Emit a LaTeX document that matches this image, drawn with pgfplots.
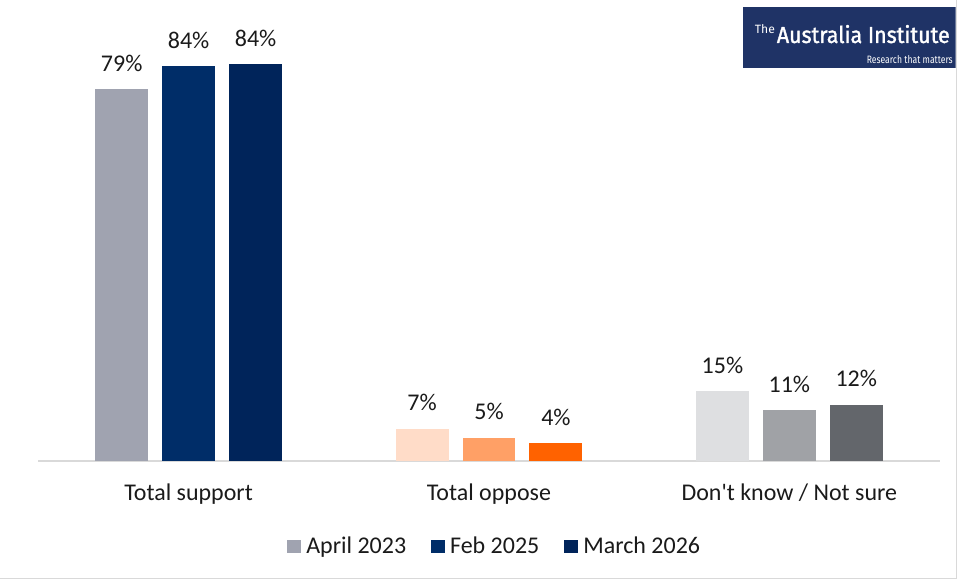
\documentclass[border=0pt]{standalone}
\usepackage{pgfplots}
\pgfplotsset{compat=1.18}
\usepackage{fontspec}
\usepackage{graphicx}
\newfontfamily\cf{Carlito}
\newfontfamily\logofont{Fira Sans}
\definecolor{apr}{HTML}{A0A3B0}
\definecolor{feb}{HTML}{002D68}
\definecolor{mar}{HTML}{00245A}
\definecolor{oa}{HTML}{FFDCC8}
\definecolor{ob}{HTML}{FFA066}
\definecolor{oc}{HTML}{FF6200}
\definecolor{da}{HTML}{DEDFE1}
\definecolor{db}{HTML}{A0A2A6}
\definecolor{dc}{HTML}{63666B}
\definecolor{logob}{HTML}{1F3366}
\definecolor{txt}{HTML}{1A1A1A}
\begin{document}
\begin{tikzpicture}[x=1pt,y=1pt]
\path (0,0) rectangle (957,579);
\draw[color=black!15,line width=1pt] (956.5,0) -- (956.5,579);
\draw[color=black!15,line width=1pt] (0,0.5) -- (957,0.5);
\begin{axis}[
  at={(38pt,118pt)}, anchor=south west,
  scale only axis, width=902pt, height=441pt,
  xmin=-0.5, xmax=2.5, ymin=0, ymax=93.4,
  ybar, bar width=53pt,
  axis x line*=bottom, axis y line=none,
  x axis line style={draw=black!15,line width=2pt},
  xtick={0,1,2}, xticklabels={Total support,Total oppose,Don't know / Not sure},
  major tick length=0pt,
  /pgf/number format/assume math mode=true,
  xticklabel style={font=\cf\fontsize{24}{28}\selectfont, text=txt, anchor=base, yshift=-40pt},
  nodes near coords={\pgfmathprintnumber[fixed,precision=0]{\pgfplotspointmeta}\%},
  every node near coord/.append style={font=\cf\fontsize{24}{28}\selectfont, text=txt, anchor=base, inner sep=0pt, yshift=18pt},
  legend style={at={(0.508,-0.193)}, anchor=center, draw=none, legend columns=-1,
    font=\cf\fontsize{24}{28}\selectfont, text=txt,
    nodes={inner xsep=5pt, inner ysep=0pt},
    /tikz/every even column/.append style={column sep=20pt}},
  legend image code/.code={\fill[#1] (0pt,-6.5pt) rectangle (14pt,6.5pt);},
  legend cell align=left,
]
\addplot[fill=apr,draw=none,bar shift=-67pt] coordinates {(0,78.8)};
\addplot[fill=feb,draw=none,bar shift=0pt] coordinates {(0,83.7)};
\addplot[fill=mar,draw=none,bar shift=67pt] coordinates {(0,84.1)};
\addplot[fill=oa,draw=none,bar shift=-67pt,forget plot] coordinates {(1,6.8)};
\addplot[fill=ob,draw=none,bar shift=0pt,forget plot] coordinates {(1,4.9)};
\addplot[fill=oc,draw=none,bar shift=67pt,forget plot] coordinates {(1,3.8)};
\addplot[fill=da,draw=none,bar shift=-67pt,forget plot] coordinates {(2,14.8)};
\addplot[fill=db,draw=none,bar shift=0pt,forget plot] coordinates {(2,10.8)};
\addplot[fill=dc,draw=none,bar shift=67pt,forget plot] coordinates {(2,11.9)};
\legend{April 2023,Feb 2025,March 2026}
\end{axis}
\begin{scope}
\clip (743,511) rectangle (956,572);
\fill[logob] (743,511) rectangle (957,572);
\node[anchor=south west,inner sep=0pt,text=white] at (777,536) {\resizebox{173pt}{18pt}{\logofont\fontsize{26}{30}\selectfont\addfontfeature{FakeBold=1.5} Australia Institute}};
\node[anchor=south west,inner sep=0pt,text=white] at (755,546) {\resizebox{20pt}{9pt}{\logofont\fontsize{13}{15}\selectfont The}};
\node[anchor=south west,inner sep=0pt,text=white] at (867,516) {\resizebox{86pt}{8pt}{\logofont\fontsize{12}{14}\selectfont Research that matters}};
\end{scope}
\end{tikzpicture}
\end{document}
